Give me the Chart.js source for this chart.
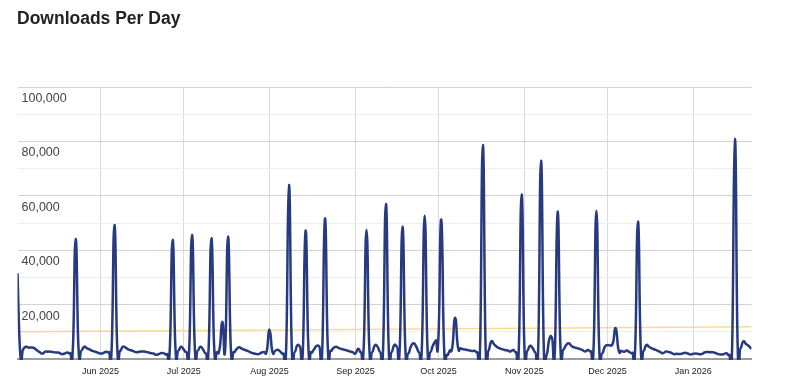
<!DOCTYPE html>
<html>
<head>
<meta charset="utf-8">
<script src="https://cdn.jsdelivr.net/npm/chart.js@4.4.0/dist/chart.umd.min.js"></script>
<style>
  html, body { margin: 0; padding: 0; background: #ffffff; }
  #wrap { position: relative; width: 800px; height: 387px; overflow: hidden; }
  #title { position: absolute; left: 17px; top: 8px; font: 700 17.5px "Liberation Sans", Arial, sans-serif; color: #222; white-space: nowrap; }
  canvas { position: absolute; left: 0; top: 0; }
</style>
</head>
<body>
<div id="wrap">
  <canvas id="chart" width="800" height="387"></canvas>
  <div id="title">Downloads Per Day</div>
</div>
<script>
// Day index 0 = 2 May 2025, last index = 22 Jan 2026
const monthTickDays = [30, 60, 91, 122, 152, 183, 213, 244];
const monthLabels = ['Jun 2025', 'Jul 2025', 'Aug 2025', 'Sep 2025', 'Oct 2025', 'Nov 2025', 'Dec 2025', 'Jan 2026'];
const yLabelValues = [20000, 40000, 60000, 80000, 100000];

const downloads = [
  31500, 1800, 3500, 4500, 4200, 4200, 4000, 3200, 2500, 2000,
  2700, 2700, 2700, 2500, 2400, 2300, 1800, 2000, 2400, 2200,
  4000, 44100, 4500, 3000, 4500, 4000, 3500, 3000, 2700, 2300,
  2000, 2200, 2700, 2500, 4000, 49300, 4500, 3000, 4500, 4200,
  3500, 3200, 2800, 2500, 2700, 2800, 2700, 2500, 2200, 2000,
  1600, 1800, 2200, 2000, 1800, 4000, 43800, 4500, 3000, 4500,
  3500, 2500, 4000, 45600, 4500, 3000, 4500, 3500, 2000, 4000,
  44400, 4500, 2500, 4000, 13700, 4000, 45000, 4500, 2500, 3500,
  4300, 3800, 3400, 3000, 2500, 2100, 1900, 1800, 2300, 2600,
  3000, 10800, 2800, 3000, 3400, 2600, 2000, 4000, 64000, 5000,
  2500, 5000, 4500, 2500, 47200, 5000, 2500, 3500, 4800, 4500,
  2500, 51700, 5000, 3000, 4000, 4500, 4000, 3700, 3400, 3100,
  2800, 2500, 2000, 3800, 2500, 4500, 47400, 4500, 2500, 5000,
  4500, 2500, 4000, 57000, 4500, 2500, 5100, 4500, 4000, 48600,
  4500, 2000, 4500, 5800, 4500, 2500, 4500, 52700, 4500, 2500,
  5000, 6800, 8500, 51300, 4500, 1500, 3000, 4500, 15200, 4500,
  3900, 3600, 3400, 3200, 2900, 3000, 2500, 4000, 78700, 4500,
  3000, 6400, 5500, 4500, 4000, 3600, 3300, 3100, 2800, 3300,
  2500, 4000, 60500, 4500, 3000, 4800, 4000, 2500, 4000, 72900,
  4500, 1500, 7200, 7600, 3000, 54200, 5000, 3500, 5000, 5800,
  4800, 4300, 4000, 3700, 3300, 2800, 3300, 2800, 4500, 54500,
  4500, 2000, 4400, 5100, 5000, 6000, 11300, 3300, 3000, 2700,
  3100, 2500, 2300, 4000, 50500, 4500, 3000, 5100, 4500, 3900,
  3500, 3100, 2600, 2100, 2700, 2600, 2300, 1800, 1900, 1800,
  2000, 2300, 2000, 1700, 1900, 2000, 1800, 1800, 2400, 2600,
  2500, 2500, 2200, 1800, 1700, 1800, 2100, 1500, 4000, 80900,
  5000, 3900, 6400, 5500, 4800, 3700
];

// Trend line end values (start, end)
const trendline = [10000, 11900];

const FONT = '"Liberation Sans", Arial, sans-serif';
const K = 0.28;

// Uniform Catmull-Rom style smoothing of the library-computed points
const smoothCurve = {
  id: 'smoothCurve',
  beforeDatasetDraw(chart, args) {
    if (args.index !== 1) return;
    const meta = args.meta;
    const pts = meta.data;
    const n = pts.length;
    for (let i = 0; i < n; i++) {
      const p = pts[i];
      const prev = pts[Math.max(i - 1, 0)];
      const next = pts[Math.min(i + 1, n - 1)];
      const dx = next.x - prev.x;
      const dy = next.y - prev.y;
      p.cp1x = p.x - K * dx;
      p.cp1y = p.y - K * dy;
      p.cp2x = p.x + K * dx;
      p.cp2y = p.y + K * dy;
    }
    meta.dataset._pointsUpdated = true;
  }
};

const lastIndex = downloads.length - 1;

new Chart(document.getElementById('chart'), {
  type: 'line',
  data: {
    datasets: [
      {
        label: 'Trend',
        data: [{ x: 0, y: trendline[0] }, { x: lastIndex, y: trendline[1] }],
        borderColor: 'rgba(246, 204, 105, 0.7)',
        borderWidth: 1.5,
        pointRadius: 0,
        tension: 0,
        order: 2
      },
      {
        label: 'Downloads',
        data: downloads.map((v, i) => ({ x: i, y: v })),
        borderColor: '#27397f',
        borderWidth: 2.5,
        pointRadius: 0,
        tension: 0.4,
        clip: { left: 0, right: 0, top: 0, bottom: 1 },
        order: 1
      }
    ]
  },
  options: {
    responsive: false,
    animation: false,
    events: [],
    layout: { padding: { top: 87, left: 17.5, right: 48.5, bottom: 0 } },
    plugins: {
      legend: { display: false },
      tooltip: { enabled: false },
      title: { display: false }
    },
    scales: {
      x: {
        type: 'linear',
        min: 0,
        max: lastIndex,
        afterBuildTicks: (s) => { s.ticks = monthTickDays.map(v => ({ value: v })); },
        afterFit: (s) => { s.height = 28; },
        grid: { color: '#dadada', lineWidth: 1, drawTicks: false },
        border: { display: true, color: '#9e9e9e', width: 2 },
        ticks: {
          autoSkip: false,
          maxRotation: 0,
          padding: 7,
          color: '#1a1a1a',
          font: { family: FONT, size: 9 },
          callback: (v, i) => monthLabels[i]
        }
      },
      y: {
        min: 0,
        max: 100000,
        afterFit: (s) => { s.width = 0; },
        grid: {
          color: (ctx) => (ctx.tick && ctx.tick.value % 20000 === 0 ? '#d2d2d2' : '#eeeeee'),
          lineWidth: 1,
          drawTicks: false
        },
        border: { display: false },
        ticks: {
          stepSize: 10000,
          mirror: true,
          padding: 4,
          labelOffset: 11.5,
          color: '#444',
          font: { family: FONT, size: 12.5 },
          callback: (v) => yLabelValues.includes(v) ? v.toLocaleString('en-US') : ''
        }
      }
    }
  },
  plugins: [smoothCurve]
});
</script>
</body>
</html>
